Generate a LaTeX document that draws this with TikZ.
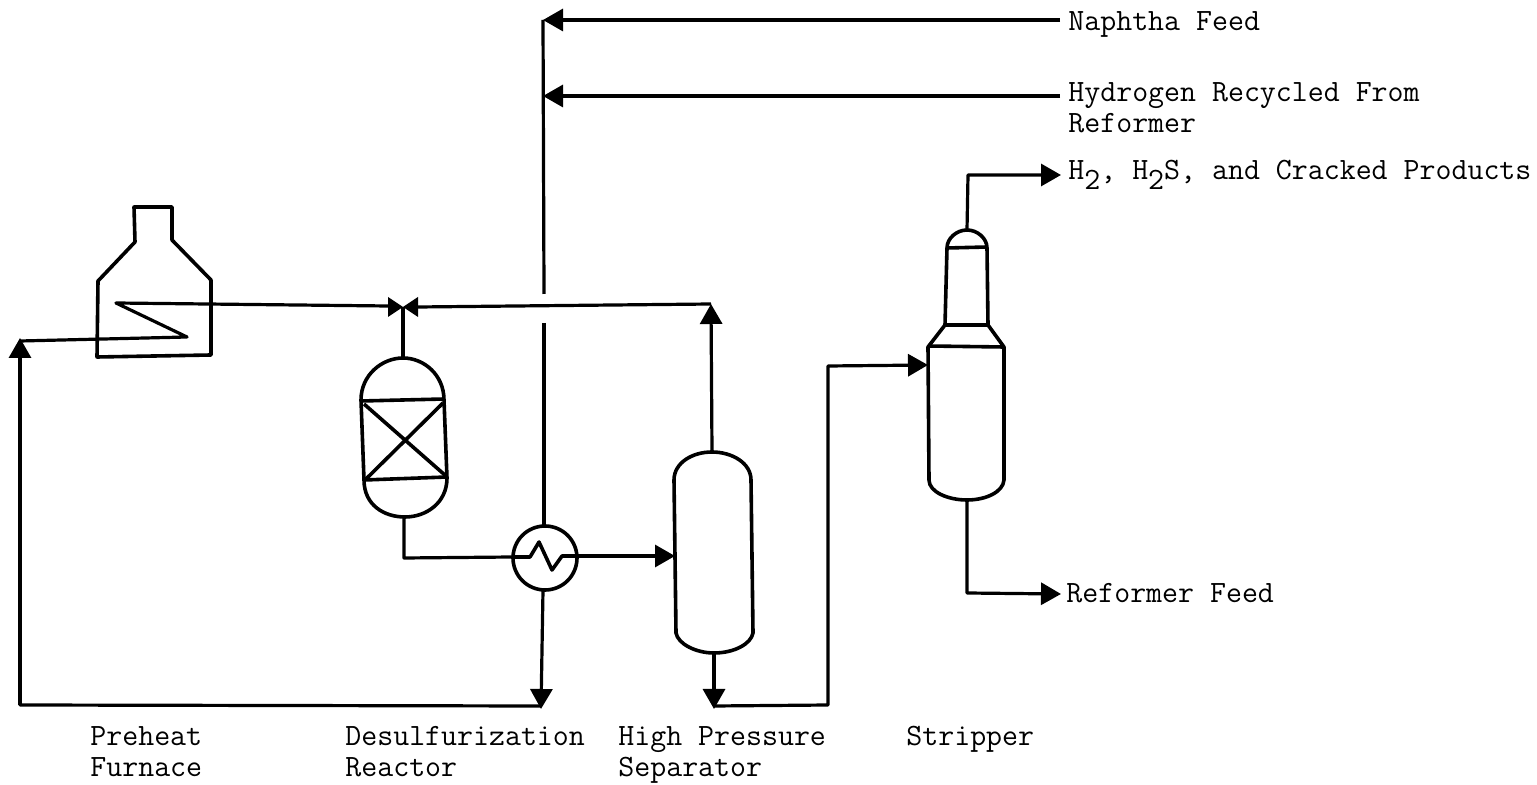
\documentclass[tikz,border=0pt]{standalone}
\usepackage{tikz}
\usetikzlibrary{arrows.meta}
\tikzset{
  pipe/.style={
    line width=1.6pt,
    line join=round,
    color=black
  },
  flow/.style={
    pipe,
    -{Triangle[length=10pt,width=11pt]}
  },
  vessel/.style={
    line width=1.8pt,
    line join=round,
    color=black
  },
  label text/.style={
    font=\fontsize{15.5}{15.5}\selectfont\ttfamily,
    align=left,
    anchor=north west,
    inner sep=0pt,
    text=black
  }
}
\newcommand{\subtwo}{\raisebox{-0.7ex}{2}}

\begin{document}
\begin{tikzpicture}[x=0.5pt, y=-0.5pt]
    \useasboundingbox (0,0) rectangle (1537,785);

    % 1. Ports and junctions
    \coordinate (NaphthaIn) at (1060,20);
    \coordinate (HydrogenIn) at (1060,96);
    \coordinate (FeedTop) at (543,20);
    \coordinate (HydrogenJoin) at (543,96);
    \coordinate (GapTop) at (544,294);
    \coordinate (GapBottom) at (544,323);
    \coordinate (ExchTop) at (544,527);
    \coordinate (ExchBottom) at (543,590);
    \coordinate (ExchLeft) at (512,557);
    \coordinate (ExchRight) at (578,556);
    \coordinate (FeedBottom) at (541,709);
    \coordinate (BottomLeft) at (20,705);
    \coordinate (BottomRight) at (541,706);
    \coordinate (FurnaceIn) at (20,338);
    \coordinate (CoilIn) at (20,341);
    \coordinate (CoilTurn) at (187,337);
    \coordinate (CoilOut) at (116,303);
    \coordinate (ValveMid) at (403,307);
    \coordinate (ValveLeft) at (388,306);
    \coordinate (ValveRight) at (418,307);
    \coordinate (ReactorTop) at (403,358);
    \coordinate (ReactorBottom) at (404,517);
    \coordinate (ReactorBend) at (404,558);
    \coordinate (SepTop) at (712,452);
    \coordinate (SepUp) at (711,304);
    \coordinate (SepLeft) at (675,556);
    \coordinate (SepBottom) at (714,653);
    \coordinate (SepDown) at (714,709);
    \coordinate (SepOutStart) at (714,706);
    \coordinate (RiserBottom) at (828,705);
    \coordinate (RiserTop) at (828,366);
    \coordinate (StripperIn) at (928,365);
    \coordinate (StripperTop) at (967,230);
    \coordinate (TopBend) at (968,175);
    \coordinate (TopOut) at (1061,175);
    \coordinate (StripperBottom) at (967,500);
    \coordinate (BottomBend) at (967,593);
    \coordinate (BottomOut) at (1061,594);

    % 2. Preheat furnace
    \draw[vessel] (97,357) -- (98,281) -- (135,242) -- (134,207) -- (172,207)
      -- (172,240) -- (211,280) -- (211,355) -- cycle;

    % 3. Reactor
    \draw[vessel] (361,400) .. controls (361,375) and (382,358) .. (403,358)
      .. controls (424,358) and (444,375) .. (444,400)
      -- (447,478) .. controls (447,503) and (426,517) .. (405,517)
      .. controls (384,517) and (364,505) .. (364,480) -- cycle;
    \draw[vessel] (361,401) -- (444,399);
    \draw[vessel] (364,480) -- (447,477);
    \draw[vessel] (364,404) -- (446,476);
    \draw[vessel] (443,403) -- (366,479);

    % 4. Heat exchanger
    \draw[vessel] (545,558) circle[radius=32];
    \draw[vessel] (ExchLeft) -- (530,557) -- (539,542) -- (552,570) -- (562,556) -- (ExchRight);

    % 5. Separator
    \draw[vessel] (674,480) .. controls (674,463) and (692,452) .. (712,452)
      .. controls (732,452) and (751,463) .. (751,480)
      -- (753,633) .. controls (751,644) and (734,653) .. (714,653)
      .. controls (696,653) and (678,644) .. (676,633) -- cycle;

    % 6. Stripper
    \draw[vessel] (928,347) -- (929,480) .. controls (929,492) and (948,500) .. (967,500)
      .. controls (986,500) and (1003,492) .. (1004,480) -- (1004,347)
      -- (988,325) -- (987,248) .. controls (987,238) and (977,230) .. (967,230)
      .. controls (957,230) and (947,238) .. (947,248) -- (945,325) -- cycle;
    \draw[vessel] (928,346) -- (1004,347);
    \draw[vessel] (945,325) -- (988,325);
    \draw[vessel] (947,248) -- (987,247);

    % 7. Valve
    \fill (ValveMid) -- (388,297) -- (388,317) -- cycle;
    \fill (ValveMid) -- (418,297) -- (418,317) -- cycle;

    % 8. Lines
    \draw[flow] (NaphthaIn) -- (FeedTop);
    \draw[flow] (HydrogenIn) -- (HydrogenJoin);
    \draw[pipe] (FeedTop) -- (GapTop);
    \draw[pipe] (GapBottom) -- (ExchTop);
    \draw[flow] (ExchBottom) -- (FeedBottom);
    \draw[pipe] (BottomRight) -- (BottomLeft) -- (CoilIn);
    \draw[flow] (BottomLeft) -- (FurnaceIn);
    \draw[pipe] (CoilIn) -- (CoilTurn) -- (CoilOut) -- (ValveLeft);
    \draw[pipe] (ValveMid) -- (ReactorTop);
    \draw[pipe] (ValveRight) -- (SepUp);
    \draw[flow] (SepTop) -- (SepUp);
    \draw[pipe] (ReactorBottom) -- (ReactorBend) -- (ExchLeft);
    \draw[flow] (ExchRight) -- (SepLeft);
    \draw[flow] (SepBottom) -- (SepDown);
    \draw[flow] (SepOutStart) -- (RiserBottom) -- (RiserTop) -- (StripperIn);
    \draw[flow] (StripperTop) -- (TopBend) -- (TopOut);
    \draw[flow] (StripperBottom) -- (BottomBend) -- (BottomOut);

    % 9. Labels
    \node[label text] (naphtha) at (1068,11) {Naphtha Feed};
    \node[label text] (hydrogen) at (1068,82) {Hydrogen Recycled From\\Reformer};
    \node[label text] (overhead) at (1068,160) {H\subtwo, H\subtwo S, and Cracked Products};
    \node[label text] (reformer) at (1066,583) {Reformer Feed};
    \node[label text] (furnace) at (90,726) {Preheat\\Furnace};
    \node[label text] (reactor) at (345,726) {Desulfurization\\Reactor};
    \node[label text] (separator) at (618,726) {High Pressure\\Separator};
    \node[label text] (stripper) at (906,726) {Stripper};
\end{tikzpicture}
\end{document}
